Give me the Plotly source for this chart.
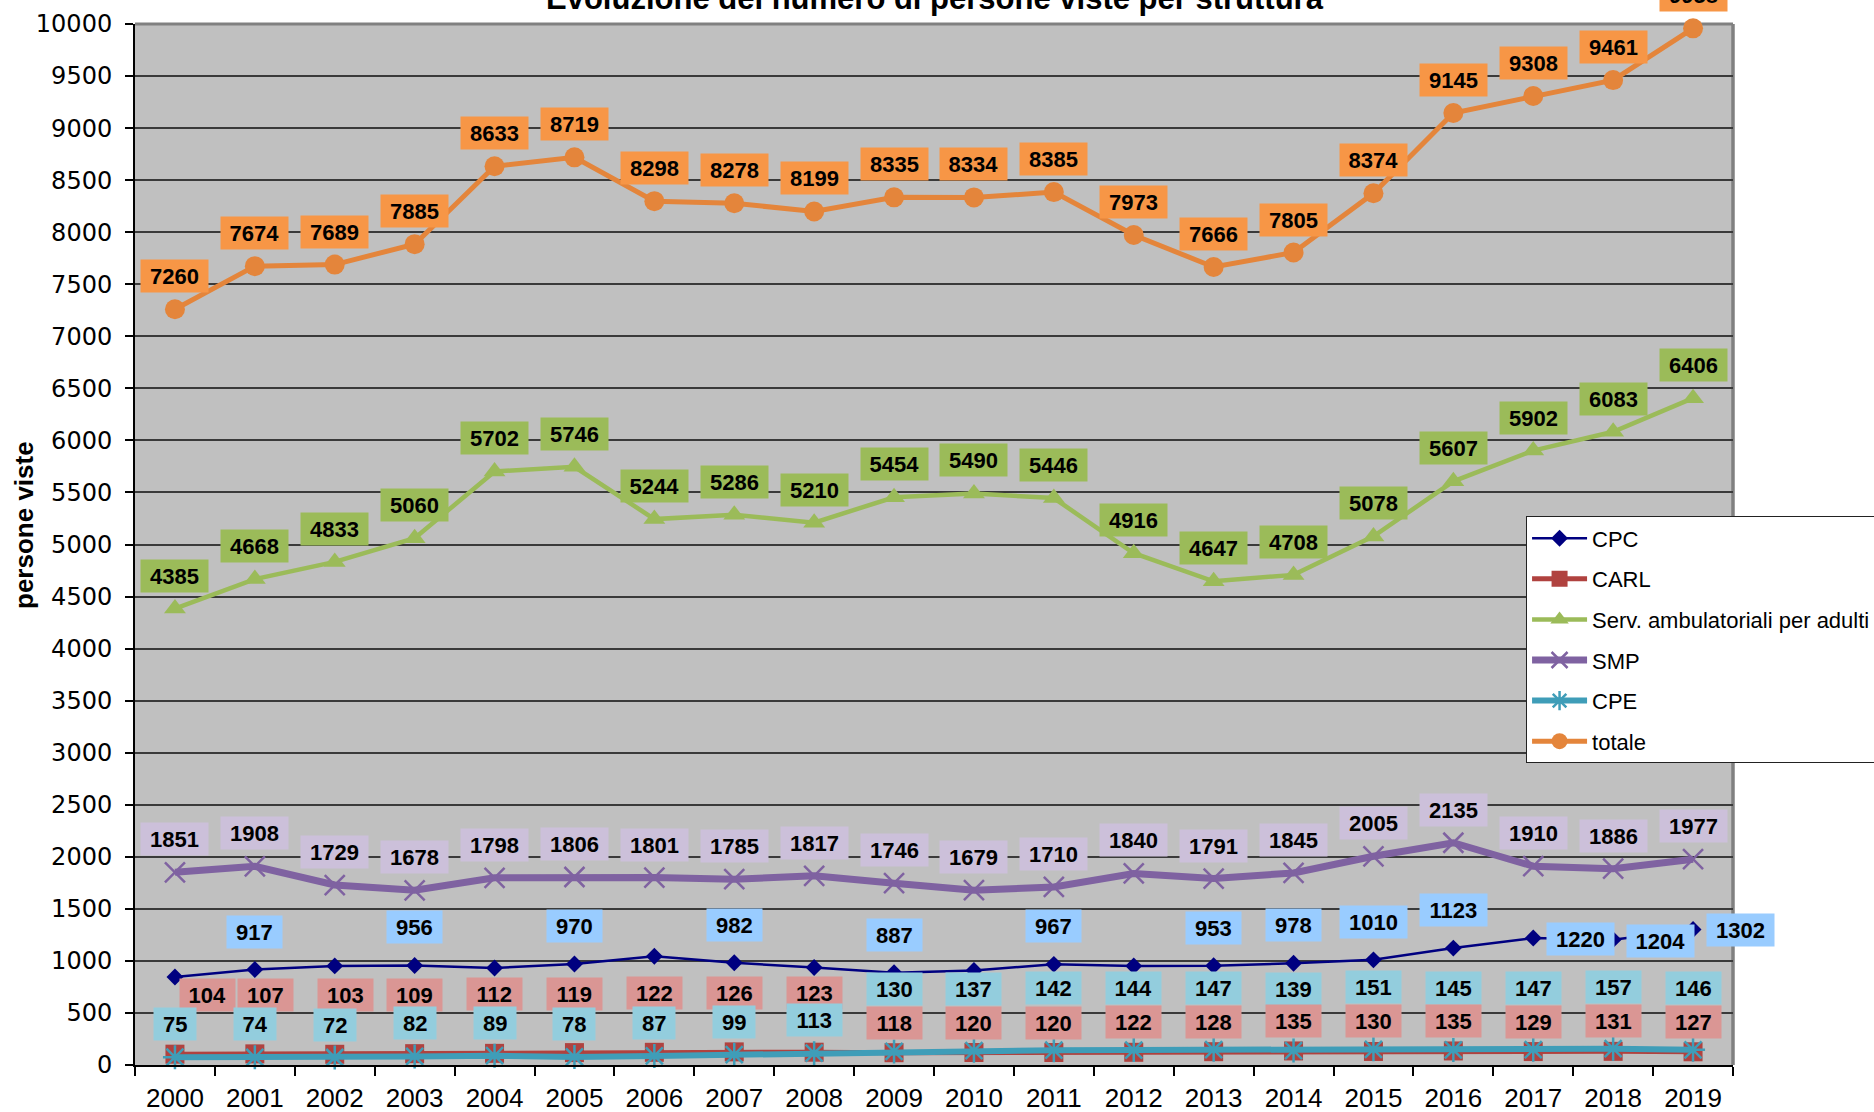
import plotly.graph_objects as go

# ---------------- data ----------------
years = [str(y) for y in range(2000, 2020)]
cpc = [845, 917, 952, 956, 932, 970, 1044, 982, 936, 887, 908, 967, 951, 953, 978, 1010, 1123, 1220, 1204, 1302]
carl = [104, 107, 103, 109, 112, 119, 122, 126, 123, 118, 120, 120, 122, 128, 135, 130, 135, 129, 131, 127]
serv = [4385, 4668, 4833, 5060, 5702, 5746, 5244, 5286, 5210, 5454, 5490, 5446, 4916, 4647, 4708, 5078, 5607, 5902, 6083, 6406]
smp = [1851, 1908, 1729, 1678, 1798, 1806, 1801, 1785, 1817, 1746, 1679, 1710, 1840, 1791, 1845, 2005, 2135, 1910, 1886, 1977]
cpe = [75, 74, 72, 82, 89, 78, 87, 99, 113, 130, 137, 142, 144, 147, 139, 151, 145, 147, 157, 146]
totale = [7260, 7674, 7689, 7885, 8633, 8719, 8298, 8278, 8199, 8335, 8334, 8385, 7973, 7666, 7805, 8374, 9145, 9308, 9461, 9958]

series_names = ["CPC", "CARL", "Serv. ambulatoriali per adulti", "SMP", "CPE", "totale"]
y_ticks = list(range(0, 10001, 500))

title_text = "Evoluzione del numero di persone viste per struttura"
y_title = "persone viste"

# CPC labels that are visible in the original chart
cpc_label_years = ["2001", "2003", "2005", "2007", "2009", "2011", "2013", "2014",
                   "2015", "2016", "2017", "2018", "2019"]
cpc_right_years = ["2017", "2018", "2019"]

# ---------------- styles ----------------
LINE = {
    "CPC": "#000080",
    "CARL": "#B0423F",
    "Serv. ambulatoriali per adulti": "#9BBB59",
    "SMP": "#7F62A1",
    "CPE": "#3F9DB8",
    "totale": "#E4853B",
}
LABEL_BG = {
    "CPC": "#99CCFF",
    "CARL": "#DA9694",
    "Serv. ambulatoriali per adulti": "#9BBB59",
    "SMP": "#CCC0DA",
    "CPE": "#93CDDD",
    "totale": "#F79646",
}
carl_dx = [33, 11, 11] + [0] * 17

LBL_FONT = dict(family="Liberation Sans, Arial, sans-serif", size=22, color="black")

fig = go.Figure()

def add(name, vals, width, symbol, msize, mline=0):
    fig.add_trace(go.Scatter(
        x=years, y=vals, name=name, mode="lines+markers",
        legendgroup=name,
        line=dict(color=LINE[name], width=width),
        marker=dict(symbol=symbol, size=msize, color=LINE[name],
                    line=dict(color=LINE[name], width=mline)),
        cliponaxis=False,
    ))

add("CPC", cpc, 2.5, "diamond", 13)
add("CARL", carl, 5, "square", 19)
add("Serv. ambulatoriali per adulti", serv, 4.5, "triangle-up", 19)
add("SMP", smp, 7, "x-thin", 20, 2.5)
add("CPE", cpe, 6, "asterisk", 20, 2.5)
add("totale", totale, 5, "circle", 20)

annotations = []

def label(name, idx, yv, yshift, xshift=0):
    txt = str(yv)
    annotations.append(dict(
        x=idx, y=yv, xref="x", yref="y", text="<b>%s</b>" % txt,
        showarrow=False, font=LBL_FONT, bgcolor=LABEL_BG[name],
        borderpad=3, width=len(txt) * 12.2 + 12, height=26,
        xanchor="center", yanchor="middle",
        xshift=xshift, yshift=yshift,
    ))

for i, v in enumerate(totale):
    label("totale", i, v, 33)
for i, v in enumerate(serv):
    label("Serv. ambulatoriali per adulti", i, v, 33)
for i, v in enumerate(smp):
    label("SMP", i, v, 33)
for i, (x, v) in enumerate(zip(years, cpc)):
    if x in cpc_label_years:
        if x in cpc_right_years:
            label("CPC", i, v, -1, 47)
        else:
            label("CPC", i, v, 38)
for i in range(len(years)):
    if carl[i] >= cpe[i]:
        label("CARL", i, carl[i], 59, carl_dx[i])
        label("CPE", i, cpe[i], 33)
    else:
        label("CPE", i, cpe[i], 62)
        label("CARL", i, carl[i], 30, carl_dx[i])

# title and y-axis title
annotations.append(dict(
    text="<b>%s</b>" % title_text, xref="paper", yref="paper", x=0.5005, y=1,
    xanchor="center", yanchor="bottom", yshift=6, showarrow=False,
    font=dict(family="Liberation Sans, Arial, sans-serif", size=31, color="black"),
))
annotations.append(dict(
    text="<b>%s</b>" % y_title, xref="paper", yref="paper", x=-0.069, y=0.5185,
    xanchor="center", yanchor="middle", textangle=-90, showarrow=False,
    font=dict(family="Liberation Sans, Arial, sans-serif", size=26, color="black"),
))

fig.update_layout(
    width=1874, height=1112,
    margin=dict(l=134.5, r=141, t=23.5, b=47, autoexpand=False),
    paper_bgcolor="white",
    plot_bgcolor="#C0C0C0",
    annotations=annotations,
    showlegend=True,
    legend=dict(
        x=0.8705, y=0.527, xanchor="left", yanchor="top",
        bgcolor="white", bordercolor="#222222", borderwidth=1,
        font=dict(family="Liberation Sans, Arial, sans-serif", size=22, color="black"),
        tracegroupgap=9, itemwidth=55, traceorder="grouped",
    ),
    xaxis=dict(
        type="category", range=[-0.5, 19.5], tickson="boundaries",
        ticks="outside", ticklen=9, tickwidth=1.5, tickcolor="black",
        showline=True, linecolor="black", linewidth=2,
        showgrid=False,
        tickfont=dict(family="Liberation Sans, Arial, sans-serif", size=26, color="black"),
        ticklabelstandoff=9,
    ),
    yaxis=dict(
        range=[0, 10000], tickvals=y_ticks, ticktext=[str(t) for t in y_ticks],
        ticks="outside", ticklen=8, tickwidth=1.5, tickcolor="black",
        showline=True, linecolor="black", linewidth=2,
        showgrid=True, gridcolor="#3a3a3a", gridwidth=2, zeroline=False,
        tickfont=dict(family="DejaVu Sans, Verdana, sans-serif", size=24, color="black"),
        ticklabelstandoff=8,
    ),
    shapes=[
        dict(type="line", xref="paper", yref="paper", x0=0, x1=1, y0=1, y1=1,
             line=dict(color="#808080", width=3), layer="below"),
        dict(type="line", xref="paper", yref="paper", x0=1, x1=1, y0=0, y1=1,
             line=dict(color="#808080", width=3.5), layer="below"),
    ],
)

fig.write_html("out.html", post_script="document.body.style.margin='0';",
               config={"displayModeBar": False})
